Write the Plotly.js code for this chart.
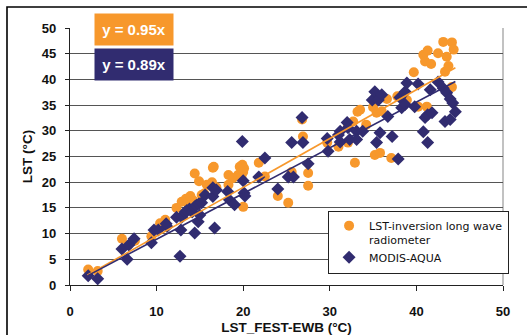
<!DOCTYPE html>
<html>
<head>
<meta charset="utf-8">
<script src="https://cdn.plot.ly/plotly-3.0.1.min.js"></script>
<style>
html,body{margin:0;padding:0;background:#fff;}
#chart{width:527px;height:335px;}
</style>
</head>
<body>
<div id="chart"></div>
<script>
// LST-inversion long wave radiometer (orange circles)
const radX = [2.1,3.2,6.0,6.7,7.5,9.4,10.4,11.0,12.3,12.9,13.4,13.6,13.9,14.2,14.4,14.9,15.2,15.5,15.8,16.4,16.5,16.6,16.9,18.3,18.3,18.8,19.4,19.6,19.8,19.9,20.0,20.1,20.0,21.8,22.5,24.0,25.2,25.6,26.8,26.9,27.5,27.5,29.7,31.0,32.1,32.1,32.7,32.9,33.2,33.5,34.2,35.0,35.4,36.0,35.2,35.8,36.6,37.1,37.8,38.3,38.9,39.7,40.2,40.8,41.0,41.3,41.7,41.2,42.5,43.1,43.5,43.3,43.7,44.1,44.3,44.1];
const radY = [3.0,2.7,9.0,7.8,8.6,9.5,12.0,12.7,15.0,16.2,16.8,16.0,17.3,16.5,21.7,20.2,17.5,17.8,19.5,20.0,22.8,23.0,19.0,19.5,21.4,20.8,21.4,23.0,21.0,23.4,22.0,22.7,15.2,23.8,21.1,17.3,16.0,22.0,32.2,28.9,21.8,19.3,27.7,26.9,27.7,31.2,31.8,23.8,33.7,34.1,31.2,34.6,33.5,33.8,25.3,25.7,36.2,24.7,36.7,36.4,36.0,41.4,34.7,44.8,43.5,45.6,43.0,34.7,45.1,47.3,44.4,41.5,42.6,47.2,45.8,38.5];
// MODIS-AQUA (navy diamonds)
const modX = [2.1,3.2,6.0,6.6,6.8,7.4,9.4,9.7,10.2,11.1,11.2,12.3,12.7,12.8,12.9,13.0,13.3,13.5,13.8,14.1,14.4,14.4,14.6,14.8,14.9,15.0,15.2,15.6,16.5,16.5,16.7,16.9,18.2,18.4,19.0,19.9,20.0,20.1,20.2,21.8,22.5,24.0,25.2,25.8,25.6,26.8,26.9,27.5,29.7,29.8,31.0,31.2,31.2,32.0,32.1,32.3,33.1,33.1,33.8,34.9,35.2,35.6,36.0,35.4,35.8,36.7,37.2,37.9,38.1,38.3,38.7,38.7,38.9,39.8,40.2,40.8,41.0,41.3,41.3,41.6,41.8,42.5,43.1,43.3,43.5,43.9,43.9,44.2,44.5];
const modY = [1.8,1.2,7.0,5.0,7.8,9.0,8.2,10.7,10.7,11.9,11.4,13.2,5.6,10.7,13.2,13.5,14.2,14.5,14.8,14.2,15.2,10.1,15.5,12.3,15.8,13.6,16.0,17.5,17.2,18.9,11.1,18.5,18.2,16.6,15.6,27.9,20.3,17.9,17.3,21.0,24.7,18.7,21.0,21.0,27.7,32.6,27.7,23.6,28.5,26.0,29.2,27.8,29.9,31.6,30.6,28.3,29.9,28.3,29.9,36.0,37.6,36.0,37.0,27.7,29.6,32.8,28.9,24.5,36.5,34.5,35.1,37.6,39.3,34.7,39.1,29.8,32.6,33.1,27.7,38.0,33.5,39.5,38.3,31.8,37.4,32.2,36.2,35.4,33.7];
// Trend lines through origin (slopes as printed in the chart)
const trendSlopes = [0.95, 0.89];
const trendLabels = ["y = 0.95x", "y = 0.89x"];
const trendXRange = [2, 44.5];
const seriesNames = ["LST-inversion long wave<br>radiometer", "MODIS-AQUA"];
const xTicks = [0,10,20,30,40,50];
const yTicks = [0,5,10,15,20,25,30,35,40,45,50];

const ORANGE = "#F7982C";
const NAVY = "#312C70";

const traces = [
  {x: radX, y: radY, type: "scatter", mode: "markers", name: seriesNames[0],
   marker: {symbol: "circle", size: 10, color: ORANGE}},
  {x: modX, y: modY, type: "scatter", mode: "markers", name: seriesNames[1],
   marker: {symbol: "diamond", size: 10, color: NAVY}},
  {x: trendXRange, y: trendXRange.map(v => v * trendSlopes[0]), type: "scatter", mode: "lines",
   line: {color: ORANGE, width: 1.6}, showlegend: false, hoverinfo: "skip"},
  {x: trendXRange, y: trendXRange.map(v => v * trendSlopes[1]), type: "scatter", mode: "lines",
   line: {color: NAVY, width: 1.6}, showlegend: false, hoverinfo: "skip"}
];

const FAM = "Liberation Sans, Arial, sans-serif";
const tickFont = {family: FAM, size: 13, color: "#111", weight: "bold"};

const layout = {
  width: 527, height: 335,
  margin: {l: 70, r: 24, t: 28, b: 50},
  paper_bgcolor: "#fff", plot_bgcolor: "#fff",
  showlegend: true,
  xaxis: {
    range: [0, 50], tickvals: xTicks, ticktext: xTicks.map(String),
    showgrid: false, zeroline: false, showline: true, linecolor: "#222", linewidth: 1.2,
    ticks: "outside", ticklen: 5, tickcolor: "#222", tickfont: tickFont, ticklabelstandoff: 9,
    title: {text: "LST_FEST-EWB (°C)", font: {family: FAM, size: 13.5, color: "#111", weight: "bold"}, standoff: 6}
  },
  yaxis: {
    range: [0, 50], tickvals: yTicks, ticktext: yTicks.map(String),
    showgrid: true, gridcolor: "#555", gridwidth: 1, zeroline: false,
    showline: true, linecolor: "#222", linewidth: 1.2,
    ticks: "outside", ticklen: 4, tickcolor: "#222", tickfont: tickFont, ticklabelstandoff: 6,
    title: {text: "LST (°C)", font: {family: FAM, size: 13.5, color: "#111", weight: "bold"}, standoff: 6}
  },
  legend: {
    x: 0.596, y: 0.288, xanchor: "left", yanchor: "top",
    bgcolor: "#fff", bordercolor: "#222", borderwidth: 1,
    font: {family: "DejaVu Sans, sans-serif", size: 11, color: "#111"},
    valign: "top", tracegroupgap: 0
  },
  annotations: [
    {xref: "paper", yref: "paper", x: 0.148, y: 0.994, xanchor: "center", yanchor: "middle",
     text: trendLabels[0], showarrow: false,
     width: 76, height: 29, bgcolor: ORANGE, font: {family: FAM, size: 15, color: "#fff", weight: "bold"}},
    {xref: "paper", yref: "paper", x: 0.148, y: 0.858, xanchor: "center", yanchor: "middle",
     text: trendLabels[1], showarrow: false,
     width: 76, height: 29, bgcolor: NAVY, font: {family: FAM, size: 15, color: "#fff", weight: "bold"}}
  ],
  shapes: [
    {type: "rect", xref: "paper", yref: "paper", x0: -0.1455, x1: 1.1, y0: -0.3, y1: 1.0817,
     line: {color: "#000", width: 1.6}, fillcolor: "rgba(0,0,0,0)", layer: "below"},
    {type: "line", xref: "paper", yref: "paper", x0: 1, x1: 1, y0: 0, y1: 1,
     line: {color: "#999", width: 1.2}, layer: "below"}
  ]
};

Plotly.newPlot("chart", traces, layout, {displayModeBar: false, staticPlot: true});
</script>
</body>
</html>
